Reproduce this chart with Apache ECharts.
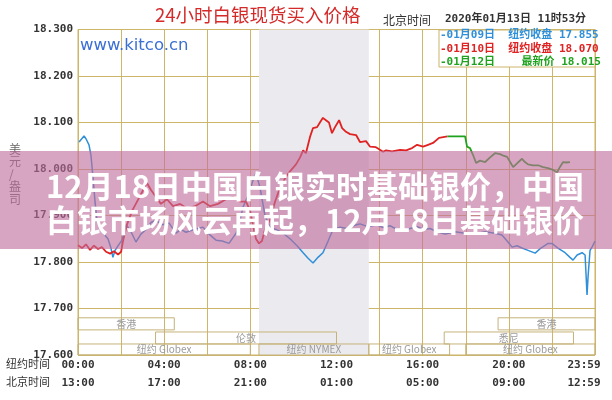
<!DOCTYPE html>
<html><head><meta charset="utf-8">
<script src="https://cdn.jsdelivr.net/npm/echarts@6/dist/echarts.min.js"></script>
<style>html,body{margin:0;padding:0;background:#fff}#c{width:612px;height:400px}</style>
</head><body><div id="c"></div>
<script>
// ---- data ----
const tickHours = [0, 4, 8, 12, 16, 20, 24];
const nyTimes = ['00:00', '04:00', '08:00', '12:00', '16:00', '20:00', '23:59'];
const bjTimes = ['13:00', '17:00', '21:00', '01:00', '05:00', '09:00', '12:59'];
const yTicks = [17.6, 17.7, 17.8, 17.9, 18.0, 18.1, 18.2, 18.3];

// 01月09日 (blue) [NY hour, price]
const jan09 = [[0.05,18.058],[0.28,18.071],[0.37,18.065],[0.51,18.052],[0.6,18.03],[0.7,17.98],[0.79,17.93],[0.88,17.89],[1.02,17.87],[1.2,17.86],[1.39,17.85],[1.53,17.83],[1.62,17.81],[1.72,17.825],[1.86,17.835],[2.04,17.847],[2.23,17.88],[2.46,17.865],[2.69,17.843],[2.92,17.86],[3.16,17.87],[3.39,17.885],[3.62,17.89],[3.9,17.88],[4.22,17.884],[4.55,17.862],[4.78,17.87],[5.01,17.864],[5.39,17.87],[5.8,17.875],[6.08,17.86],[6.41,17.847],[6.69,17.845],[7.01,17.84],[7.34,17.862],[7.52,17.89],[7.66,17.918],[7.94,17.948],[8.12,17.975],[8.26,17.99],[8.45,17.96],[8.68,17.9],[8.91,17.875],[9.19,17.87],[9.52,17.862],[9.84,17.85],[10.17,17.835],[10.45,17.82],[10.68,17.808],[10.91,17.798],[11.14,17.81],[11.37,17.82],[11.61,17.845],[11.84,17.87],[12.16,17.875],[12.49,17.872],[12.77,17.878],[13.09,17.882],[13.46,17.876],[13.88,17.88],[14.16,17.874],[14.48,17.878],[14.81,17.87],[15.09,17.866],[15.41,17.872],[15.74,17.876],[16.06,17.87],[16.34,17.872],[16.67,17.865],[17.04,17.86],[17.5,17.865],[17.97,17.862],[18.43,17.86],[18.9,17.865],[19.36,17.862],[19.68,17.858],[19.92,17.845],[20.15,17.832],[20.38,17.835],[20.61,17.83],[20.89,17.825],[21.22,17.819],[21.49,17.83],[21.82,17.84],[22.0,17.84],[22.28,17.83],[22.61,17.82],[22.84,17.81],[22.98,17.804],[23.17,17.815],[23.4,17.82],[23.54,17.815],[23.63,17.729],[23.68,17.77],[23.77,17.825],[23.86,17.832],[24.0,17.845]];

// 01月10日 (red)
const jan10 = [[0,17.836],[0.19,17.83],[0.37,17.838],[0.56,17.826],[0.74,17.835],[0.93,17.828],[1.11,17.832],[1.3,17.822],[1.49,17.818],[1.67,17.823],[1.86,17.816],[2.0,17.822],[2.09,17.845],[2.27,17.88],[2.51,17.91],[2.74,17.93],[2.97,17.95],[3.2,17.97],[3.39,17.955],[3.62,17.94],[3.85,17.925],[4.13,17.935],[4.41,17.92],[4.74,17.925],[5.06,17.915],[5.43,17.92],[5.8,17.93],[6.13,17.92],[6.5,17.925],[6.87,17.935],[7.2,17.94],[7.52,17.93],[7.8,17.93],[7.99,17.91],[8.12,17.88],[8.26,17.85],[8.4,17.84],[8.54,17.845],[8.68,17.87],[8.91,17.89],[9.15,17.93],[9.38,17.96],[9.61,17.98],[9.84,17.995],[10.12,18.01],[10.31,18.025],[10.45,18.04],[10.58,18.034],[10.77,18.069],[10.91,18.088],[11.1,18.09],[11.23,18.1],[11.37,18.11],[11.51,18.105],[11.65,18.1],[11.79,18.077],[11.93,18.09],[12.12,18.105],[12.26,18.088],[12.44,18.08],[12.63,18.075],[12.91,18.073],[13.09,18.058],[13.37,18.06],[13.56,18.048],[13.83,18.047],[14.16,18.037],[14.3,18.04],[14.58,18.038],[14.95,18.041],[15.23,18.04],[15.51,18.045],[15.74,18.052],[16.02,18.048],[16.25,18.052],[16.48,18.056],[16.76,18.067],[17.15,18.07]];

// 01月12日 (green, latest)
const jan12 = [[17.15,18.07],[17.97,18.07],[18.06,18.048],[18.2,18.045],[18.34,18.03],[18.48,18.013],[18.66,18.018],[18.9,18.015],[19.13,18.025],[19.36,18.034],[19.59,18.032],[19.78,18.028],[19.92,18.026],[20.06,18.015],[20.2,18.004],[20.38,18.012],[20.61,18.022],[20.75,18.015],[20.89,18.01],[21.12,18.008],[21.36,18.008],[21.59,18.004],[21.82,18.002],[22.05,17.998],[22.24,17.993],[22.38,18.005],[22.52,18.015],[22.66,18.014],[22.84,18.015]];

// COMEX session (gray band), NY hours
const comexHours = [8.4, 13.5];

// Trading sessions: name, start hour, end hour, row
const sessionNames = ['香港', '香港', '伦敦', '悉尼', '纽约 Globex', '纽约 NYMEX', '纽约 Globex', '纽约 Globex'];
const sessionStart = [0, 19.5, 3.6, 17.0, 0, 8.4, 13.5, 18.0];
const sessionEnd   = [4.47, 24, 12.0, 23.0, 8.0, 13.5, 17.25, 24];
const sessionRow   = [0, 0, 1, 1, 2, 2, 2, 2];

const legendDates  = ['-01月09日', '-01月10日', '-01月12日'];
const legendLabels = ['纽约收盘', '纽约收盘', '  最新价'];
const legendValues = ['17.855', '18.070', '18.015'];

// ---- chart ----
const GOLD = '#cdb56a';
const MONO = "'DejaVu Sans Mono','Noto Sans CJK SC',monospace";
const CJK = "'Noto Sans CJK SC','DejaVu Sans',sans-serif";
const rowTop = [17.680, 17.6495, 17.6237];
const rowBot = [17.654, 17.6237, 17.6];

const chart = echarts.init(document.getElementById('c'), null, {renderer: 'canvas'});
const sessions = sessionNames.map((n, i) => [sessionStart[i], sessionEnd[i], sessionRow[i]]);
const legendColors = ['#2f8fd8', '#e02222', '#1fa31f'];

const graphics = [
  {type: 'text', left: 155, top: 6, z: 10, style: {text: '24小时白银现货买入价格', fill: '#d42a2a', font: '18.5px ' + CJK}},
  {type: 'text', left: 383, top: 14, z: 10, style: {text: '北京时间', fill: '#333', font: '12px ' + CJK}},
  {type: 'text', left: 445, top: 14, z: 10, style: {text: '2020年01月13日 11时53分', fill: '#333', font: 'bold 11px ' + MONO}},
  {type: 'text', left: 80, top: 37, z: 10, style: {text: 'www.kitco.cn', fill: '#3b6fd4', font: '16.5px "DejaVu Sans",sans-serif'}},
  {type: 'rect', z: 10, shape: {x: 439, y: 30, width: 156, height: 37}, style: {fill: '#fff', stroke: GOLD, lineWidth: 1}},
  {type: 'text', left: 6, top: 358, z: 10, style: {text: '纽约时间', fill: '#333', font: '11px ' + CJK}},
  {type: 'text', left: 6, top: 376, z: 10, style: {text: '北京时间', fill: '#333', font: '11px ' + CJK}},
  {type: 'text', left: 9, top: 143, z: 10, style: {text: '美\n元\n/\n盎\n司', fill: '#666', font: '12px ' + CJK, lineHeight: 12.5, align: 'center'}}
];
legendDates.forEach((d, i) => {
  graphics.push({type: 'text', left: 440, top: 30 + i * 13.2, z: 11,
    style: {text: d + '  ' + legendLabels[i] + ' ' + legendValues[i], fill: legendColors[i], font: 'bold 11px ' + MONO}});
});
// banner overlay
graphics.push({type: 'rect', z: 50, shape: {x: 0, y: 151, width: 612, height: 98}, style: {fill: 'rgba(190,110,155,0.62)'}});
graphics.push({type: 'text', z: 51, x: 315, y: 186, style: {text: '12月18日中国白银实时基础银价，中国', fill: '#fff', font: 'bold 31px ' + CJK, align: 'center', verticalAlign: 'middle', shadowColor: 'rgba(0,0,0,0.25)', shadowBlur: 2}});
graphics.push({type: 'text', z: 51, x: 315, y: 220, style: {text: '白银市场风云再起，12月18日基础银价', fill: '#fff', font: 'bold 31px ' + CJK, align: 'center', verticalAlign: 'middle', shadowColor: 'rgba(0,0,0,0.25)', shadowBlur: 2}});

const option = {
  animation: false,
  backgroundColor: '#fff',
  grid: {left: 78, right: 17, top: 29.5, bottom: 45, show: true, borderColor: GOLD, borderWidth: 1, backgroundColor: '#fff', containLabel: false, outerBoundsMode: 'none'},
  xAxis: {
    type: 'value', min: 0, max: 24, interval: 2, z: 1,
    axisLine: {show: false}, axisTick: {show: false},
    splitLine: {show: true, lineStyle: {color: GOLD, width: 1}},
    axisLabel: {
      customValues: tickHours, margin: 1,
      formatter: function (v) {
        const i = tickHours.indexOf(v);
        if (i < 0) return '';
        const k = i === tickHours.length - 1 ? 'e' : 'a';
        return '{' + k + '|' + nyTimes[i] + '}\n{' + k + '|' + bjTimes[i] + '}';
      },
      rich: {
        a: {fontFamily: MONO, fontWeight: 'bold', fontSize: 11, color: '#333', lineHeight: 18},
        e: {fontFamily: MONO, fontWeight: 'bold', fontSize: 11, color: '#333', lineHeight: 18, padding: [0, 22, 0, 0]}
      }
    }
  },
  yAxis: {
    type: 'value', min: 17.6, max: 18.3, interval: 0.1, z: 1,
    axisLine: {show: false}, axisTick: {show: false},
    splitLine: {show: true, lineStyle: {color: GOLD, width: 1}},
    axisLabel: {margin: 5, fontFamily: MONO, fontWeight: 'bold', fontSize: 11, color: '#333',
      formatter: v => { const t = yTicks.find(x => Math.abs(x - v) < 1e-6); return (t === undefined ? v : t).toFixed(3); }}
  },
  graphic: graphics,
  series: [
    {type: 'line', z: 0, data: [], silent: true,
      markArea: {silent: true, itemStyle: {color: '#ebebef'}, data: [[{xAxis: comexHours[0]}, {xAxis: comexHours[1]}]]}},
    {type: 'custom', z: 2, silent: true, data: sessions,
      renderItem: function (params, api) {
        const r = api.value(2);
        const p1 = api.coord([api.value(0), rowTop[r]]);
        const p2 = api.coord([api.value(1), rowBot[r]]);
        return {type: 'group', children: [
          {type: 'rect', shape: {x: p1[0], y: p1[1], width: p2[0] - p1[0], height: p2[1] - p1[1]}, style: {fill: 'none', stroke: '#c5b27a', lineWidth: 1}},
          {type: 'text', style: {text: sessionNames[params.dataIndex], x: (p1[0] + p2[0]) / 2, y: (p1[1] + p2[1]) / 2, align: 'center', verticalAlign: 'middle', fill: '#9a9a9a', font: '10px ' + CJK}}
        ]};
      }},
    {type: 'line', name: '01月09日', z: 3, data: jan09, showSymbol: false, lineStyle: {color: '#2f8fd8', width: 1.5}},
    {type: 'line', name: '01月10日', z: 4, data: jan10, showSymbol: false, lineStyle: {color: '#e02222', width: 1.8}},
    {type: 'line', name: '01月12日', z: 5, data: jan12, showSymbol: false, lineStyle: {color: '#1fa31f', width: 1.8}}
  ]
};
chart.setOption(option);
</script></body></html>
